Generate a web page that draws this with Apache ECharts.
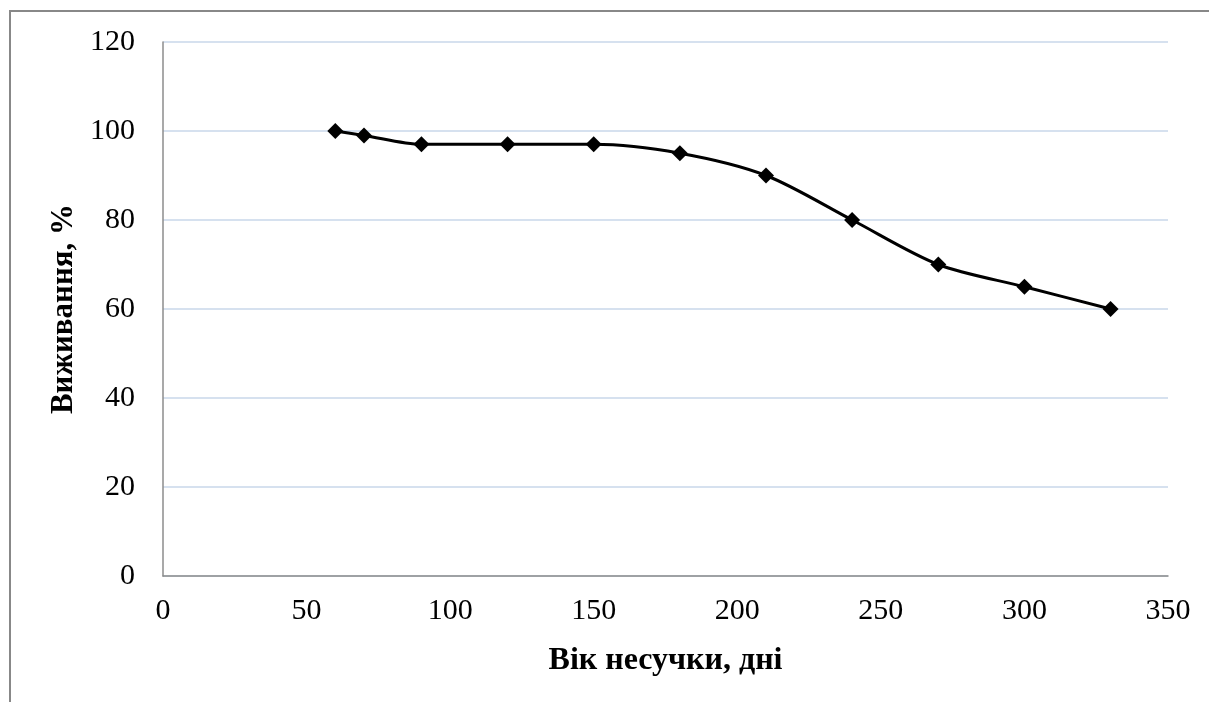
<!DOCTYPE html>
<html>
<head>
<meta charset="utf-8">
<script src="https://cdn.jsdelivr.net/npm/echarts@6/dist/echarts.min.js"></script>
<style>
html,body{margin:0;padding:0;background:#fff;overflow:hidden;}
#frame{position:absolute;left:9px;top:10px;width:1400px;height:900px;border-left:2px solid #888;border-top:2px solid #888;}
#chart{position:absolute;left:0;top:0;width:1209px;height:702px;}
</style>
</head>
<body>
<div id="frame"></div>
<div id="chart"></div>
<script>
const ageDays = [60, 70, 90, 120, 150, 180, 210, 240, 270, 300, 330];
const survivalPct = [100, 99, 97, 97, 97, 95, 90, 80, 70, 65, 60];
const xTitle = 'Вік несучки, дні';
const yTitle = 'Виживання, %';

const chart = echarts.init(document.getElementById('chart'), null, {renderer: 'canvas'});
const serif = '"Liberation Serif", "Times New Roman", serif';
chart.setOption({
  animation: false,
  backgroundColor: 'transparent',
  grid: {left: 163, right: 41, top: 42, bottom: 126, containLabel: false},
  xAxis: {
    type: 'value', min: 0, max: 350, interval: 50,
    name: xTitle, nameLocation: 'middle', nameGap: 69,
    nameTextStyle: {fontFamily: serif, fontSize: 32, fontWeight: 'bold', color: '#000'},
    axisLine: {show: true, lineStyle: {color: '#8c8c8c', width: 1.5}},
    axisTick: {show: false},
    axisLabel: {fontFamily: serif, fontSize: 30, color: '#000', margin: 20},
    splitLine: {show: false}
  },
  yAxis: {
    type: 'value', min: 0, max: 120, interval: 20,
    name: yTitle, nameLocation: 'middle', nameGap: 80, nameRotate: 90,
    nameTextStyle: {fontFamily: serif, fontSize: 31, fontWeight: 'bold', color: '#000'},
    axisLine: {show: true, lineStyle: {color: '#8c8c8c', width: 1.5}},
    axisTick: {show: false},
    axisLabel: {fontFamily: serif, fontSize: 30, color: '#000', margin: 28},
    splitLine: {show: true, lineStyle: {color: '#c9d7ea', width: 1.5}}
  },
  series: [{
    type: 'line',
    data: ageDays.map((x, i) => [x, survivalPct[i]]),
    smooth: 0.3,
    symbol: 'diamond',
    symbolSize: 16,
    itemStyle: {color: '#000'},
    lineStyle: {color: '#000', width: 3}
  }]
});
</script>
</body>
</html>
